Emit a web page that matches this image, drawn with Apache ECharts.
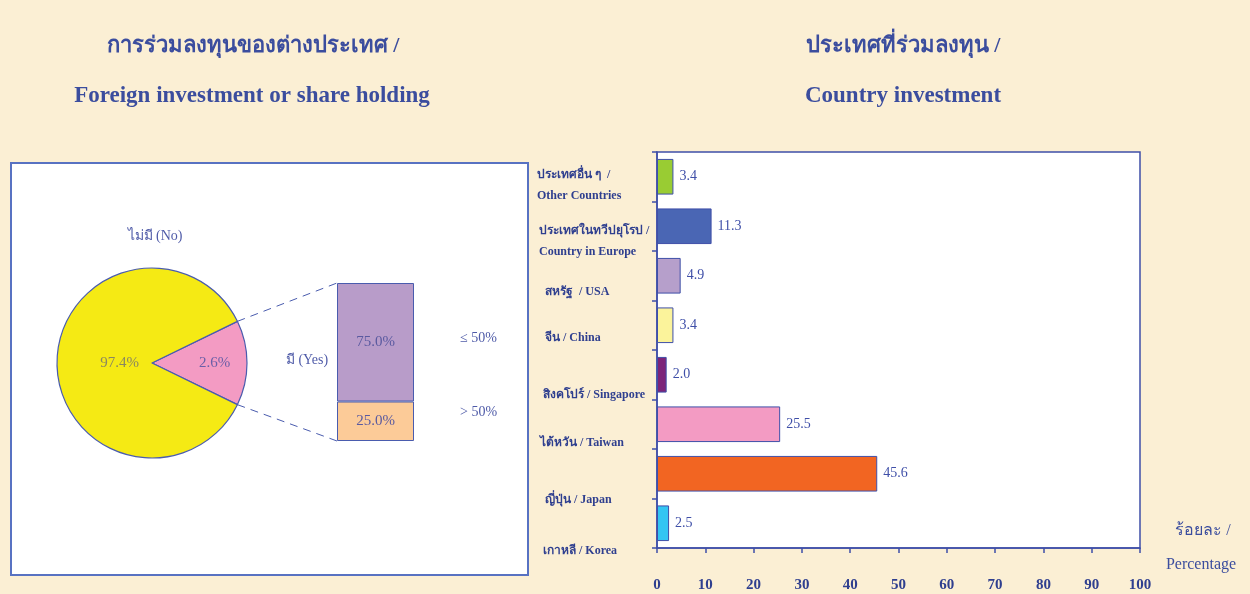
<!DOCTYPE html>
<html>
<head>
<meta charset="utf-8">
<script src="https://cdn.jsdelivr.net/npm/echarts@6/dist/echarts.min.js"></script>
<style>
  html, body { margin: 0; padding: 0; background: #fbefd4; }
  #chart { width: 1250px; height: 594px; }
</style>
</head>
<body>
<div id="chart"></div>
<script>
// pie: has foreign investment or not (%)
const pieNames = ["มี (Yes)", "ไม่มี (No)"];
const pieValues = [2.6, 97.4];

// stacked bar: share of holding among "Yes" (%)
const holdNames = ["> 50%", "≤ 50%"];
const holdValues = [25.0, 75.0];

// country investment (%), top to bottom
const countries = [
  "ประเทศอื่น ๆ  /\nOther Countries",
  "ประเทศในทวีปยุโรป /\nCountry in Europe",
  "สหรัฐ  / USA",
  "จีน / China",
  "สิงคโปร์ / Singapore",
  "ไต้หวัน / Taiwan",
  "ญี่ปุ่น / Japan",
  "เกาหลี / Korea",
];
const countryValues = [3.4, 11.3, 4.9, 3.4, 2.0, 25.5, 45.6, 2.5];
const xTicks = [0, 10, 20, 30, 40, 50, 60, 70, 80, 90, 100];

// styling
const BLUE = "#3b4d9e";
const FONT = "'Liberation Serif', 'Times New Roman', serif";
const barColors = ["#99cc33", "#4a66b4", "#b69fcb", "#fbf39b", "#7c2479", "#f39bc3", "#f26522", "#33c5f3"];
const labelShift = [9, 15, 16, 13, 20, 19, 26, 28];
const labelIndent = [0, 2, 8, 8, 6, 3, 8, 6];

const pieCenter = [152, 363];
const pieRadius = 95;
const pieStart = 26;
const holdGrid = { left: 337, top: 283, width: 77, height: 158 };

const chart = echarts.init(document.getElementById("chart"));

const a = (pieStart * Math.PI) / 180;
const edgeTop = [pieCenter[0] + pieRadius * Math.cos(a), pieCenter[1] - pieRadius * Math.sin(a)];
const edgeBot = [pieCenter[0] + pieRadius * Math.cos(a), pieCenter[1] + pieRadius * Math.sin(a)];

// per-label spacer line pushes each label down, as in the source slide
const rich = {};
countries.forEach((c, i) => {
  rich["s" + i] = { lineHeight: labelShift[i] * 2, fontSize: 1 };
  rich["t" + i] = { padding: [0, 0, 0, labelIndent[i]], fontSize: 12, fontWeight: "bold",
    fontFamily: FONT, color: "#2f3f8f", lineHeight: 21 };
});

const option = {
  animation: false,
  backgroundColor: "#fbefd4",
  textStyle: { fontFamily: FONT },
  title: [
    { text: "การร่วมลงทุนของต่างประเทศ /", left: 248, top: 30, textAlign: "center",
      textStyle: { color: BLUE, fontSize: 22, fontWeight: "bold", fontFamily: FONT } },
    { text: "Foreign investment or share holding", left: 247, top: 80, textAlign: "center",
      textStyle: { color: BLUE, fontSize: 23, fontWeight: "bold", fontFamily: FONT } },
    { text: "ประเทศที่ร่วมลงทุน /", left: 898, top: 30, textAlign: "center",
      textStyle: { color: BLUE, fontSize: 22, fontWeight: "bold", fontFamily: FONT } },
    { text: "Country investment", left: 898, top: 80, textAlign: "center",
      textStyle: { color: BLUE, fontSize: 23, fontWeight: "bold", fontFamily: FONT } },
  ],
  graphic: [
    { type: "rect", z: 0, shape: { x: 11, y: 163, width: 517, height: 412 },
      style: { fill: "#ffffff", stroke: "#5872c2", lineWidth: 2 } },
    { type: "line", z: 1, shape: { x1: edgeTop[0], y1: edgeTop[1], x2: holdGrid.left, y2: holdGrid.top },
      style: { stroke: "#4a5cae", lineWidth: 1, lineDash: [8, 6] } },
    { type: "line", z: 1, shape: { x1: edgeBot[0], y1: edgeBot[1], x2: holdGrid.left, y2: holdGrid.top + holdGrid.height },
      style: { stroke: "#4a5cae", lineWidth: 1, lineDash: [8, 6] } },
    { type: "text", z: 5, x: 155, y: 236, style: { text: pieNames[1], fill: "#4f5ba8", font: "14px " + FONT, textAlign: "center", textVerticalAlign: "middle" } },
    { type: "text", z: 5, x: 307, y: 360, style: { text: pieNames[0], fill: "#4f5ba8", font: "14px " + FONT, textAlign: "center", textVerticalAlign: "middle" } },
    { type: "text", z: 5, x: 460, y: 338, style: { text: holdNames[1], fill: "#4f5ba8", font: "14px " + FONT, textAlign: "left", textVerticalAlign: "middle" } },
    { type: "text", z: 5, x: 460, y: 412, style: { text: holdNames[0], fill: "#4f5ba8", font: "14px " + FONT, textAlign: "left", textVerticalAlign: "middle" } },
    { type: "text", z: 5, x: 1203, y: 531, style: { text: "ร้อยละ /", fill: BLUE, font: "16px " + FONT, textAlign: "center", textVerticalAlign: "middle" } },
    { type: "text", z: 5, x: 1201, y: 565, style: { text: "Percentage", fill: BLUE, font: "16px " + FONT, textAlign: "center", textVerticalAlign: "middle" } },
  ],
  grid: [
    { left: holdGrid.left, top: holdGrid.top, width: holdGrid.width, height: holdGrid.height },
    { left: 657, top: 152, width: 483, height: 396, show: true, backgroundColor: "#ffffff",
      borderColor: "#3f4fa8", borderWidth: 1.5 },
  ],
  xAxis: [
    { gridIndex: 0, type: "category", data: ["มี"], show: false },
    { gridIndex: 1, type: "value", min: 0, max: 100, interval: 10,
      axisLine: { show: true, lineStyle: { color: "#3f4fa8", width: 1.5 } },
      axisTick: { show: true, length: 5, lineStyle: { color: "#3f4fa8", width: 1.5 } },
      splitLine: { show: false },
      axisLabel: { margin: 30, color: "#2f3f8f", fontSize: 15, fontWeight: "bold", fontFamily: FONT,
        formatter: (v) => (xTicks.includes(v) ? String(v) : "") } },
  ],
  yAxis: [
    { gridIndex: 0, type: "value", min: 0, max: 100, show: false },
    { gridIndex: 1, type: "category", inverse: true, data: countries,
      axisLine: { show: true, lineStyle: { color: "#3f4fa8", width: 1.5 } },
      axisTick: { show: true, length: 5, alignWithLabel: false, lineStyle: { color: "#3f4fa8", width: 1.5 } },
      axisLabel: { interval: 0, hideOverlap: false, align: "left", margin: 120, color: "#2f3f8f",
        fontSize: 12, fontWeight: "bold", fontFamily: FONT, lineHeight: 21, rich: rich,
        formatter: (v, i) => "{s" + i + "| }\n" + v.split("\n").map((l) => "{t" + i + "|" + l + "}").join("\n") } },
  ],
  series: [
    {
      type: "pie", z: 3, center: pieCenter, radius: pieRadius, startAngle: pieStart, minAngle: 52,
      clockwise: true, avoidLabelOverlap: false,
      data: pieNames.map((n, i) => ({ name: n, value: pieValues[i],
        label: { color: i === 0 ? "#6b5fa8" : "#8a8760" } })),
      itemStyle: { borderColor: "#4a5cae", borderWidth: 1.2 },
      color: ["#f39bc3", "#f5ea14"],
      label: { position: "inside", formatter: (p) => p.value.toFixed(1) + "%", fontSize: 15, fontFamily: FONT },
      labelLayout: (p) => ({ dx: p.dataIndex === 0 ? 12 : 18 }),
      labelLine: { show: false },
      emphasis: { disabled: true },
    },
    ...holdNames.map((n, i) => ({
      type: "bar", name: n, xAxisIndex: 0, yAxisIndex: 0, stack: "hold", z: 3,
      barCategoryGap: "0%",
      data: [holdValues[i]],
      itemStyle: { color: i === 0 ? "#fccb98" : "#b89cc9", borderColor: "#4a5cae", borderWidth: 1 },
      label: { show: true, position: "inside", formatter: (p) => p.value.toFixed(1) + "%",
        fontSize: 15, fontFamily: FONT, color: "#5a5aa0" },
    })),
    {
      type: "bar", xAxisIndex: 1, yAxisIndex: 1, z: 3, barCategoryGap: "28%",
      data: countryValues.map((v, i) => ({ value: v, itemStyle: { color: barColors[i] } })),
      itemStyle: { borderColor: "#3f4fa8", borderWidth: 1 },
      label: { show: true, position: "right", distance: 6, formatter: (p) => p.value.toFixed(1),
        fontSize: 14, fontFamily: FONT, color: "#3f4fa8" },
    },
  ],
};

chart.setOption(option);
window.addEventListener("resize", () => chart.resize());
</script>
</body>
</html>
